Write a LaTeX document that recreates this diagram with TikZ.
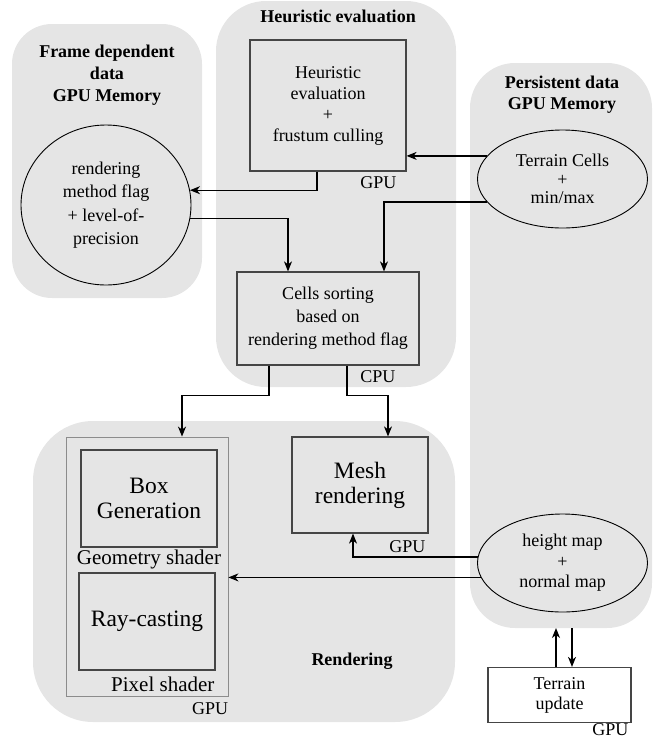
\documentclass[tikz,border=0pt]{standalone}
\usepackage{fontspec}
\setmainfont{Liberation Serif}
\usetikzlibrary{shapes.geometric, arrows.meta}
\usetikzlibrary{positioning}
\pgfdeclarelayer{background1}
\pgfdeclarelayer{background2}
\pgfsetlayers{background2,background1,main}

\tikzset{
	stage/.style={draw=boxcolor, line width=1.2pt, align=center, inner sep=0pt, font=\fontsize{18}{21}\selectfont},
	bigstage/.style={stage, font=\fontsize{23.5}{25}\selectfont},
	memory/.style={ellipse, draw, line width=0.9pt, align=center, inner sep=0pt, minimum width=170pt, minimum height=98pt},
	unit/.style={inner sep=0pt, font=\fontsize{18}{21}\selectfont},
	shader/.style={inner sep=0pt, font=\fontsize{21}{24}\selectfont},
	title/.style={align=center, inner sep=0pt, font=\fontsize{18}{22}\selectfont\bfseries},
	flow/.style={-{Stealth[length=10pt,width=8pt,inset=3pt]}, line width=1.3pt},
}

\begin{document}
\begin{tikzpicture}[x=1pt,y=-1pt]

	\definecolor{regioncolor}{rgb}{0.90,0.90,0.90}
	\definecolor{boxcolor}{rgb}{0.27,0.27,0.27}
	\definecolor{framecolor}{rgb}{0.55,0.55,0.55}
	\useasboundingbox (0,0) rectangle (659,740);

	% processing stages
	\node(heur) [stage, minimum width=156pt, minimum height=131pt] at (328,105.5) {Heuristic\\evaluation\\+\\frustum culling};
	\node(sorting) [stage, minimum width=182pt, minimum height=93pt, font=\fontsize{18}{23}\selectfont] at (328,318.5) {Cells sorting\\based on\\rendering method flag};
	\node(shaders) [draw=framecolor, line width=0.8pt, minimum width=162pt, minimum height=259pt, inner sep=0pt] at (147,566.5) {};
	\node(boxgen) [bigstage, minimum width=136pt, minimum height=97pt] at (149,498.5) {Box\\Generation};
	\node(raycast) [bigstage, minimum width=136pt, minimum height=97pt] at (147,621.5) {Ray-casting};
	\node(mesh) [bigstage, minimum width=136pt, minimum height=96pt] at (360,485) {Mesh\\rendering};
	\node(update) [stage, minimum width=143pt, minimum height=55pt, font=\fontsize{18}{20}\selectfont] at (559.5,695) {Terrain\\update};

	% memory contents
	\node(flag) [memory, minimum width=170pt, minimum height=160pt, font=\fontsize{18}{23.5}\selectfont] at (106,205) {rendering\\method flag\\+ level-of-\\precision};
	\node(cells) [memory, font=\fontsize{18}{18.5}\selectfont] at (562.5,179) {Terrain Cells\\+\\min/max};
	\node(maps) [memory, font=\fontsize{18}{20.5}\selectfont] at (562.5,563) {height map\\+\\normal map};

	% processor labels
	\node(heurunit) [unit, below left=5pt and 10pt of heur.south east] {GPU};
	\node(sortingunit) [unit, below left=5pt and 24pt of sorting.south east] {CPU};
	\node(meshunit) [unit, below left=7pt and 3pt of mesh.south east] {GPU};
	\node(shadersunit) [unit, below left=6pt and 0pt of shaders.south east] {GPU};
	\node(updateunit) [unit, below left=0pt and 3pt of update.south east] {GPU};
	\node(geomlabel) [shader, below=2pt of boxgen.south] {Geometry shader};
	\node(pixellabel) [shader, below left=6pt and 1pt of raycast.south east] {Pixel shader};

	% group titles
	\node(frametitle) [title] at (107,75) {Frame dependent\\data\\GPU Memory};
	\node(heurtitle) [title] at (338,16) {Heuristic evaluation};
	\node(persisttitle) [title, font=\fontsize{18}{21}\selectfont\bfseries] at (562,95) {Persistent data\\GPU Memory};
	\node(rendertitle) [title] at (352,661) {Rendering};

	\coordinate (persistbottom) at (562,628);

	\begin{pgfonlayer}{background2}
		\fill[regioncolor, rounded corners=40pt] (12,24) rectangle (202,298);
		\fill[regioncolor, rounded corners=50pt] (216,1) rectangle (456,387);
		\fill[regioncolor, rounded corners=45pt] (470,63) rectangle (652,628);
		\fill[regioncolor, rounded corners=60pt] (33,421) rectangle (455,722);
	\end{pgfonlayer}

	\draw[flow] ([xshift=-11pt]heur.south) |- (flag.10);
	\draw[flow] (flag.-9) -| ([xshift=-40pt]sorting.north);
	\draw[flow] (cells.163) -- (cells.163 -| heur.east);
	\draw[flow] (cells.197) -| ([xshift=56pt]sorting.north);
	\draw[flow] ([xshift=-59pt]sorting.south) -- ++(0,30) -| ([xshift=35pt]shaders.north);
	\draw[flow] ([xshift=19pt]sorting.south) -- ++(0,30) -| ([xshift=28pt]mesh.north);
	\draw[flow] (maps.176) -| ([xshift=-7pt]mesh.south);
	\draw[flow] (maps.190) -- (maps.190 -| shaders.east);
	\draw[flow] ([xshift=-3.5pt]update.north) -- ([xshift=-3.5pt]update.north |- persistbottom);
	\draw[flow] ([xshift=12.5pt]update.north |- persistbottom) -- ([xshift=12.5pt]update.north);

\end{tikzpicture}
\end{document}
